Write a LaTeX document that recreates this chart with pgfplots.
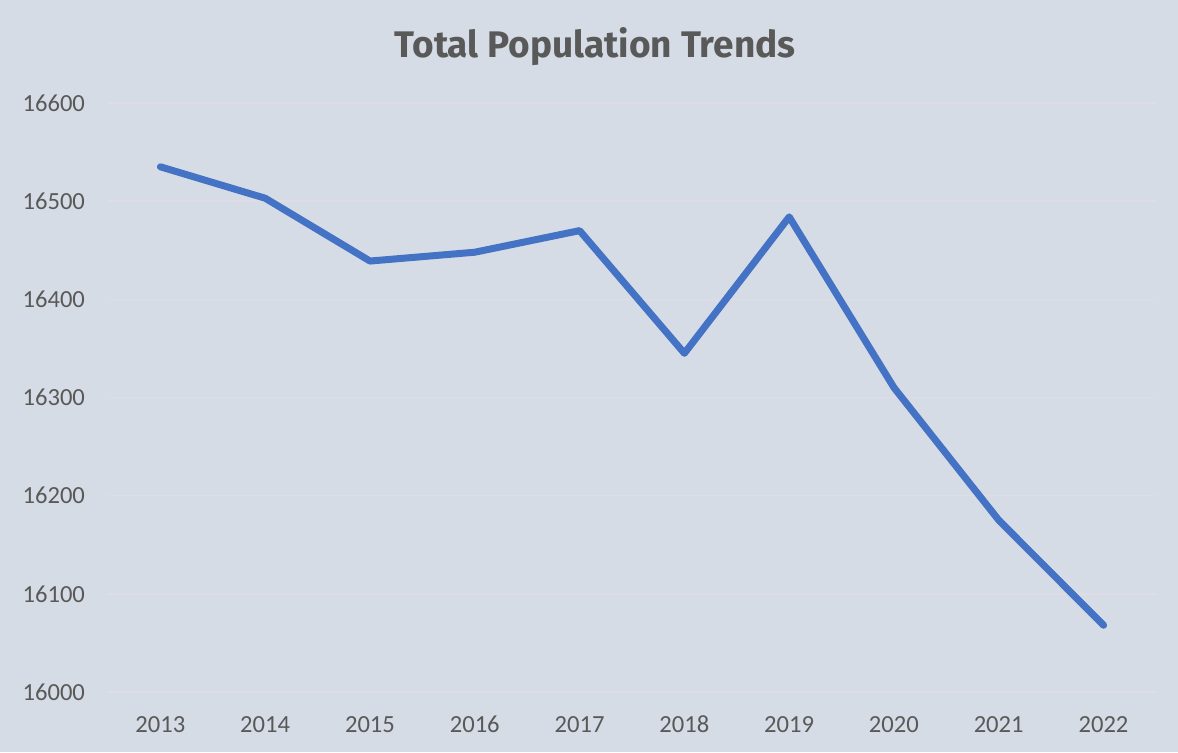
\documentclass[border=0pt]{standalone}
\usepackage{pgfplots}
\pgfplotsset{compat=1.18}
\usepackage{fontspec}
\setmainfont{Carlito}
\newfontfamily\titlefont{Fira Sans}
\definecolor{bg}{RGB}{214,220,229}
\definecolor{gridc}{RGB}{222,220,228}
\definecolor{txt}{RGB}{89,89,89}
\definecolor{linec}{RGB}{68,114,196}
\begin{document}
\begin{tikzpicture}
\fill[bg] (0,0) rectangle (589pt,376pt);
\node[font=\titlefont\fontsize{18.5}{22}\selectfont\bfseries, text=txt] at (297.5pt,352.5pt) {Total Population Trends};
\begin{axis}[
  at={(54pt,30pt)}, anchor=south west,
  scale only axis, width=524pt, height=294.5pt,
  xmin=2012.5, xmax=2022.5, ymin=16000, ymax=16600,
  xtick={2013,...,2022}, ytick={16000,16100,...,16600},
  scaled y ticks=false, scaled x ticks=false,
  xticklabel style={/pgf/number format/1000 sep={}},
  yticklabel style={/pgf/number format/1000 sep={}},
  /pgf/number format/assume math mode=true,
  ticklabel style={font=\fontsize{12.3}{14}\selectfont, text=txt},
  axis line style={draw=none},
  major tick length=0pt,
  xmajorgrids=false, ymajorgrids=true,
  major grid style={draw=gridc, line width=0.8pt},
  xticklabel style={yshift=-8.5pt},
  yticklabel style={xshift=-8pt},
  clip=false,
]
\addplot[linec, line width=3.5pt, line cap=round, line join=round] coordinates {
(2013,16535) (2014,16503) (2015,16439) (2016,16448) (2017,16470)
(2018,16345) (2019,16484) (2020,16310) (2021,16175) (2022,16068)
};
\end{axis}
\end{tikzpicture}
\end{document}
